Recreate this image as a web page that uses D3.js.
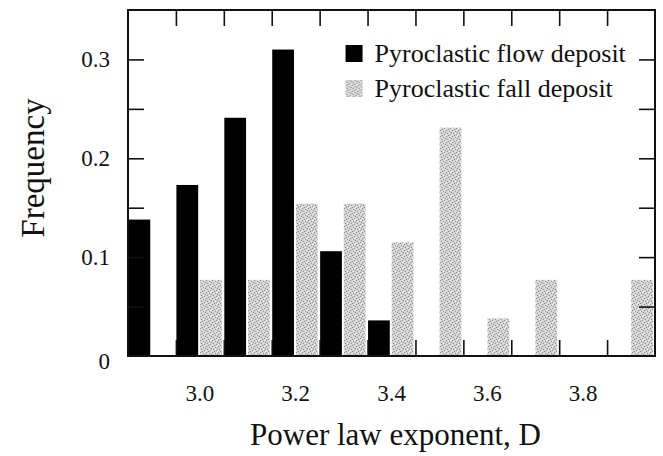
<!DOCTYPE html>
<html>
<head>
<meta charset="utf-8">
<script src="https://cdn.jsdelivr.net/npm/d3@7"></script>
<style>
  body { margin: 0; background: #fff; }
  svg text { font-family: "Liberation Serif", "Times New Roman", serif; fill: #111; }
</style>
</head>
<body>
<div id="chart"></div>
<script>
// Data (bin centres, frequency)
var binCenters = [2.9, 3.0, 3.1, 3.2, 3.3, 3.4, 3.5, 3.6, 3.7, 3.8, 3.9];
var flowValues = [0.138, 0.173, 0.241, 0.310, 0.106, 0.036, 0, 0, 0, 0, 0];
var fallValues = [0, 0.077, 0.077, 0.154, 0.154, 0.115, 0.231, 0.038, 0.077, 0, 0.077];
var seriesNames = ["Pyroclastic flow deposit", "Pyroclastic fall deposit"];
var xTickLabels = [3.0, 3.2, 3.4, 3.6, 3.8];
var yTickLabels = [0, 0.1, 0.2, 0.3];

var svgWidth = 663;
var svgHeight = 456;

var margin = { top: 10, right: 8, bottom: 100, left: 128 };
var width = svgWidth - margin.left - margin.right;
var height = svgHeight - margin.top - margin.bottom;

var serif = "'Liberation Serif', 'Times New Roman', serif";

var svg = d3.select("#chart")
  .append("svg")
  .attr("width", svgWidth)
  .attr("height", svgHeight);

// stippled grey fill for the fall deposit bars
var defs = svg.append("defs");
var pat = defs.append("pattern")
  .attr("id", "stipple")
  .attr("patternUnits", "userSpaceOnUse")
  .attr("width", 6)
  .attr("height", 6);
pat.append("rect").attr("width", 6).attr("height", 6).attr("fill", "#d2d2d2");
[[0, 0], [3, 1], [1, 3], [4, 4], [5, 2], [2, 5]].forEach(function(p) {
  pat.append("rect").attr("x", p[0]).attr("y", p[1]).attr("width", 1).attr("height", 1).attr("fill", "#8a8a8a");
});
[[2, 1], [0, 4], [4, 0], [3, 3], [5, 5]].forEach(function(p) {
  pat.append("rect").attr("x", p[0]).attr("y", p[1]).attr("width", 1).attr("height", 1).attr("fill", "#f0f0f0");
});

var chartGroup = svg.append("g")
  .attr("transform", `translate(${margin.left}, ${margin.top})`);

// scales
var xScale = d3.scaleLinear()
  .domain([2.85, 3.95])
  .range([0, width]);

var yScale = d3.scaleLinear()
  .domain([0, 0.35])
  .range([height, 0]);

var binW = xScale(2.95) - xScale(2.85);
var subScale = d3.scaleBand()
  .domain(["flow", "fall"])
  .range([0.5, binW - 2])
  .paddingInner(0.08);

var rows = binCenters.map(function(c, i) {
  return { center: c, flow: flowValues[i], fall: fallValues[i] };
});

// bars
chartGroup.selectAll(".flowBar")
  .data(rows.filter(d => d.flow > 0))
  .enter()
  .append("rect")
  .attr("class", "flowBar")
  .attr("x", d => xScale(d.center - 0.05) + subScale("flow"))
  .attr("y", d => yScale(d.flow))
  .attr("width", subScale.bandwidth())
  .attr("height", d => height - yScale(d.flow))
  .attr("fill", "#000");

chartGroup.selectAll(".fallBar")
  .data(rows.filter(d => d.fall > 0))
  .enter()
  .append("rect")
  .attr("class", "fallBar")
  .attr("x", d => xScale(d.center - 0.05) + subScale("fall"))
  .attr("y", d => yScale(d.fall))
  .attr("width", subScale.bandwidth())
  .attr("height", d => height - yScale(d.fall))
  .attr("fill", "url(#stipple)");

// inward ticks on all four sides
var binEdges = binCenters.slice(1).map(c => +(c - 0.05).toFixed(2));
var yTicks = d3.range(0.05, 0.35, 0.05);
var tickLen = 16;

var bottomAxis = d3.axisBottom(xScale).tickValues(binEdges).tickSize(-tickLen).tickFormat("");
var topAxis = d3.axisTop(xScale).tickValues(binEdges).tickSize(-tickLen).tickFormat("");
var leftAxis = d3.axisLeft(yScale).tickValues(yTicks).tickSize(-tickLen).tickFormat("");
var rightAxis = d3.axisRight(yScale).tickValues(yTicks).tickSize(-tickLen).tickFormat("");

chartGroup.append("g").attr("transform", `translate(0, ${height})`).call(bottomAxis);
chartGroup.append("g").call(topAxis);
chartGroup.append("g").call(leftAxis);
chartGroup.append("g").attr("transform", `translate(${width}, 0)`).call(rightAxis);

chartGroup.selectAll(".domain").remove();
chartGroup.selectAll(".tick line").attr("stroke", "#111").attr("stroke-width", 1.6);

// frame
chartGroup.append("rect")
  .attr("width", width)
  .attr("height", height)
  .attr("fill", "none")
  .attr("stroke", "#111")
  .attr("stroke-width", 2);

// tick labels
chartGroup.selectAll(".xLabel")
  .data(xTickLabels)
  .enter()
  .append("text")
  .attr("class", "xLabel")
  .attr("x", d => xScale(d))
  .attr("y", height + 45)
  .attr("text-anchor", "middle")
  .style("font-family", serif)
  .style("font-size", "23px")
  .text(d => d3.format(".1f")(d));

chartGroup.selectAll(".yLabel")
  .data(yTickLabels)
  .enter()
  .append("text")
  .attr("class", "yLabel")
  .attr("x", -18)
  .attr("y", d => yScale(d))
  .attr("dy", d => d === 0 ? "0.55em" : "0.35em")
  .attr("text-anchor", "end")
  .style("font-family", serif)
  .style("font-size", "23px")
  .text(d => d === 0 ? "0" : d3.format(".1f")(d));

// axis titles
chartGroup.append("text")
  .attr("x", width / 2 + 4)
  .attr("y", height + 89)
  .attr("text-anchor", "middle")
  .style("font-family", serif)
  .style("font-size", "31px")
  .text("Power law exponent, D");

chartGroup.append("text")
  .attr("transform", "rotate(-90)")
  .attr("x", -158)
  .attr("y", -84)
  .attr("text-anchor", "middle")
  .style("font-family", serif)
  .style("font-size", "33px")
  .text("Frequency");

// legend
var legend = chartGroup.append("g")
  .attr("transform", `translate(${xScale(3.35) - 22}, 52)`);

seriesNames.forEach(function(name, i) {
  var row = legend.append("g").attr("transform", `translate(0, ${i * 35})`);
  row.append("rect")
    .attr("x", 0)
    .attr("y", -17)
    .attr("width", 17)
    .attr("height", 17)
    .attr("fill", i === 0 ? "#000" : "url(#stipple)");
  row.append("text")
    .attr("x", 29)
    .attr("y", 0)
    .style("font-family", serif)
    .style("font-size", "26px")
    .text(name);
});
</script>
</body>
</html>
